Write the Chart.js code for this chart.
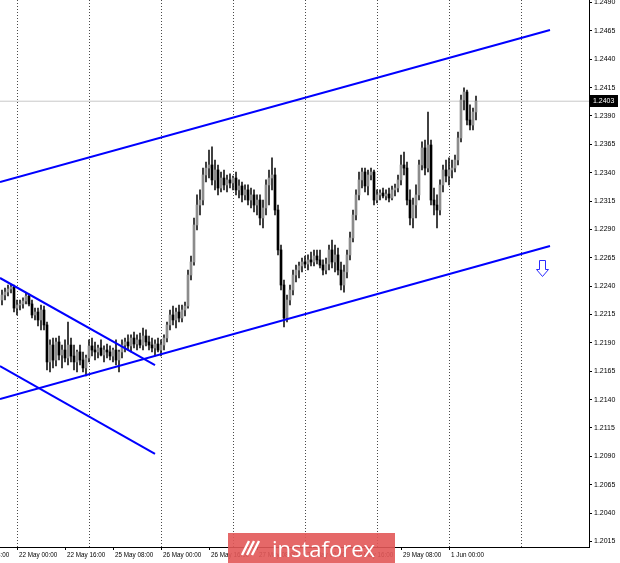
<!DOCTYPE html>
<html>
<head>
<meta charset="utf-8">
<script src="https://cdn.jsdelivr.net/npm/chart.js@4.4.0/dist/chart.umd.min.js"></script>
<style>
    html, body { margin: 0; padding: 0; background: #fff; }
    #wrap { position: relative; width: 620px; height: 563px; overflow: hidden; }
    #wm {
        position: absolute; left: 228px; top: 533px; width: 167px; height: 30px;
        background: rgba(226, 88, 88, 0.9); color: #fff;
        font: 22px "Open Sans", sans-serif; line-height: 30px;
        display: flex; align-items: center;
    }
    #wm svg { margin-left: 12px; margin-right: 10px; }
</style>
</head>
<body>
<div id="wrap">
    <canvas id="priceChart" width="620" height="563"></canvas>
    <div id="wm">
        <svg width="22" height="20" viewBox="0 0 22 20">
            <path d="M2 17 L9 3 M7 17 L14 3 M12 17 L19 3" stroke="#fff" stroke-width="2.4" fill="none"/>
        </svg>
        <span>instaforex</span>
    </div>
</div>
<script>
        // Bougies H1
        const opens = [1.22278,1.22322,1.22348,1.22375,1.22392,1.22207,1.22234,1.22243,1.22269,1.22313,
            1.22243,1.22146,1.22172,1.22102,1.22190,1.22058,1.21732,1.21881,1.21749,1.21908,
            1.21793,1.21837,1.21767,1.21881,1.21784,1.21732,1.21820,1.21749,1.21679,1.21767,
            1.21873,1.21837,1.21820,1.21855,1.21793,1.21837,1.21820,1.21784,1.21837,1.21749,
            1.21820,1.21881,1.21908,1.21873,1.21943,1.21890,1.21926,1.21881,1.21961,1.21908,
            1.21881,1.21855,1.21890,1.21837,1.21881,1.21943,1.22058,1.22146,1.22102,1.22172,
            1.22119,1.22190,1.22225,1.22498,1.22613,1.22939,1.23115,1.23159,1.23380,1.23441,
            1.23468,1.23336,1.23424,1.23265,1.23353,1.23292,1.23336,1.23309,1.23353,1.23248,
            1.23283,1.23204,1.23248,1.23159,1.23204,1.23115,1.23159,1.23001,1.23089,1.23292,
            1.23353,1.23380,1.23071,1.22719,1.22410,1.22119,1.22278,1.22366,1.22498,1.22542,
            1.22578,1.22613,1.22595,1.22631,1.22613,1.22666,1.22631,1.22586,1.22542,1.22595,
            1.22719,1.22613,1.22675,1.22542,1.22410,1.22525,1.22675,1.22825,1.23027,1.23204,
            1.23336,1.23406,1.23283,1.23380,1.23406,1.23159,1.23204,1.23221,1.23195,1.23212,
            1.23177,1.23248,1.23265,1.23336,1.23468,1.23441,1.23159,1.23001,1.23115,1.23204,
            1.23468,1.23618,1.23441,1.23644,1.23159,1.23115,1.23071,1.23292,1.23424,1.23371,
            1.23424,1.23441,1.23512,1.23706,1.24041,1.24111,1.23864,1.23820,1.23935];
        const highs = [1.22366,1.22384,1.22410,1.22419,1.22410,1.22278,1.22278,1.22296,1.22340,1.22331,
            1.22278,1.22207,1.22207,1.22234,1.22225,1.22084,1.21926,1.21943,1.21943,1.21961,
            1.21881,1.21926,1.22084,1.21943,1.21881,1.21837,1.21881,1.21820,1.21793,1.21926,
            1.21943,1.21908,1.21881,1.21926,1.21873,1.21890,1.21873,1.21855,1.21926,1.21837,
            1.21926,1.21943,1.21970,1.21970,1.21996,1.21970,1.21987,1.22031,1.22014,1.21961,
            1.21943,1.21926,1.21943,1.21926,1.21970,1.22084,1.22190,1.22225,1.22207,1.22234,
            1.22234,1.22260,1.22542,1.22666,1.23001,1.23204,1.23248,1.23441,1.23494,1.23600,
            1.23627,1.23512,1.23468,1.23406,1.23424,1.23380,1.23389,1.23371,1.23406,1.23336,
            1.23318,1.23292,1.23292,1.23265,1.23248,1.23204,1.23204,1.23159,1.23336,1.23424,
            1.23530,1.23441,1.23115,1.22763,1.22454,1.22322,1.22410,1.22542,1.22586,1.22613,
            1.22648,1.22666,1.22675,1.22701,1.22719,1.22719,1.22719,1.22631,1.22648,1.22763,
            1.22807,1.22763,1.22736,1.22613,1.22586,1.22719,1.22877,1.23071,1.23248,1.23406,
            1.23441,1.23441,1.23424,1.23441,1.23424,1.23248,1.23248,1.23265,1.23248,1.23265,
            1.23283,1.23300,1.23380,1.23556,1.23582,1.23494,1.23248,1.23177,1.23292,1.23512,
            1.23671,1.23688,1.23935,1.23688,1.23265,1.23204,1.23336,1.23468,1.23512,1.23530,
            1.23512,1.23556,1.23759,1.24085,1.24147,1.24129,1.23997,1.23970,1.24076];
        const lows = [1.22234,1.22278,1.22313,1.22340,1.22172,1.22146,1.22190,1.22207,1.22243,1.22225,
            1.22119,1.22102,1.22049,1.22014,1.22014,1.21661,1.21643,1.21679,1.21696,1.21749,
            1.21679,1.21732,1.21705,1.21732,1.21661,1.21643,1.21705,1.21643,1.21608,1.21732,
            1.21784,1.21749,1.21767,1.21784,1.21732,1.21767,1.21749,1.21732,1.21705,1.21643,
            1.21767,1.21820,1.21837,1.21820,1.21855,1.21837,1.21855,1.21837,1.21873,1.21837,
            1.21820,1.21784,1.21820,1.21784,1.21837,1.21908,1.22014,1.22058,1.22031,1.22084,
            1.22084,1.22137,1.22207,1.22454,1.22586,1.22895,1.23027,1.23115,1.23318,1.23353,
            1.23292,1.23248,1.23204,1.23230,1.23248,1.23230,1.23265,1.23248,1.23204,1.23177,
            1.23142,1.23159,1.23115,1.23089,1.23054,1.23027,1.22939,1.22913,1.23027,1.23115,
            1.23248,1.23027,1.22675,1.22366,1.22040,1.22084,1.22234,1.22322,1.22437,1.22472,
            1.22525,1.22560,1.22542,1.22578,1.22578,1.22595,1.22560,1.22498,1.22507,1.22542,
            1.22560,1.22525,1.22498,1.22366,1.22348,1.22472,1.22631,1.22789,1.22983,1.23159,
            1.23265,1.23230,1.23204,1.23336,1.23115,1.23133,1.23159,1.23177,1.23159,1.23142,
            1.23159,1.23195,1.23230,1.23292,1.23380,1.23115,1.22939,1.22913,1.23001,1.23159,
            1.23424,1.23380,1.23406,1.23115,1.23027,1.22913,1.23027,1.23230,1.23318,1.23292,
            1.23353,1.23406,1.23468,1.23671,1.23953,1.23820,1.23776,1.23776,1.23864];
        const closes = [1.22322,1.22348,1.22375,1.22392,1.22207,1.22234,1.22243,1.22269,1.22313,1.22243,
            1.22146,1.22172,1.22102,1.22190,1.22058,1.21732,1.21881,1.21749,1.21908,1.21793,
            1.21837,1.21767,1.21881,1.21784,1.21732,1.21820,1.21749,1.21679,1.21767,1.21873,
            1.21837,1.21820,1.21855,1.21793,1.21837,1.21820,1.21784,1.21837,1.21749,1.21820,
            1.21881,1.21908,1.21873,1.21943,1.21890,1.21926,1.21881,1.21961,1.21908,1.21881,
            1.21855,1.21890,1.21837,1.21881,1.21943,1.22058,1.22146,1.22102,1.22172,1.22119,
            1.22190,1.22225,1.22498,1.22613,1.22939,1.23115,1.23159,1.23380,1.23441,1.23468,
            1.23336,1.23424,1.23265,1.23353,1.23292,1.23336,1.23309,1.23353,1.23248,1.23283,
            1.23204,1.23248,1.23159,1.23204,1.23115,1.23159,1.23001,1.23089,1.23292,1.23353,
            1.23380,1.23071,1.22719,1.22410,1.22119,1.22278,1.22366,1.22498,1.22542,1.22578,
            1.22613,1.22595,1.22631,1.22613,1.22666,1.22631,1.22586,1.22542,1.22595,1.22719,
            1.22613,1.22675,1.22542,1.22410,1.22525,1.22675,1.22825,1.23027,1.23204,1.23336,
            1.23406,1.23283,1.23380,1.23406,1.23159,1.23204,1.23221,1.23195,1.23212,1.23177,
            1.23248,1.23265,1.23336,1.23468,1.23441,1.23159,1.23001,1.23115,1.23204,1.23468,
            1.23618,1.23441,1.23644,1.23159,1.23115,1.23071,1.23292,1.23424,1.23371,1.23424,
            1.23441,1.23512,1.23706,1.24041,1.24111,1.23864,1.23820,1.23935,1.24032];

        // Lignes de tendance : [index de barre, prix]
        const channelUpper = [[-0.667, 1.23318], [182.67, 1.24658]];
        const channelLower = [[-0.667, 1.21406], [182.67, 1.22754]];
        const descUpper = [[-0.667, 1.22472], [51, 1.21705]];
        const descLower = [[-0.667, 1.21696], [51, 1.20921]];

        const lastPrice = 1.2403;
        const arrowPos = [180, 1.2256];

        // Axes
        const yTicks = [1.2015,1.2040,1.2065,1.2090,1.2115,1.2140,1.2165,1.2190,1.2215,1.2240,
            1.2265,1.2290,1.2315,1.2340,1.2365,1.2390,1.2415,1.2440,1.2465,1.2490];
        const timeTickIdx = [-11, 5, 21, 37, 53, 69, 85, 101, 117, 133, 149];
        const timeLabels = ["21 May 08:00", "22 May 00:00", "22 May 16:00", "25 May 08:00", "26 May 00:00",
            "26 May 16:00", "27 May 08:00", "28 May 00:00", "28 May 16:00", "29 May 08:00", "1 Jun 00:00"];
        const dayIdx = [5, 29, 53, 77, 101, 125, 149, 173];

        const allTicks = [...new Set(timeTickIdx.concat(dayIdx))].sort((a, b) => a - b);
        const toPts = arr => arr.map(p => ({ x: p[0], y: p[1] }));
        const tickVal = c => (c && c.tick) ? c.tick.value : null;
        const noPad = s => { s.paddingLeft = 0; s.paddingRight = 0; s.paddingTop = 0; s.paddingBottom = 0; };

        const wickData = opens.map((o, i) => ({ x: i, y: [lows[i], highs[i]] }));
        const bodyData = opens.map((o, i) => ({ x: i, y: [o, closes[i]] }));
        const bodyColors = opens.map((o, i) => closes[i] >= o ? '#8c8c8c' : '#000000');

        // Étiquette du dernier prix + flèche
        const overlay = {
            id: 'overlay',
            afterDraw(chart) {
                const c = chart.ctx, xs = chart.scales.x, ys = chart.scales.y;
                const py = Math.round(ys.getPixelForValue(lastPrice));
                c.save();
                c.fillStyle = '#000';
                c.fillRect(590, py - 6, 28, 12);
                c.fillStyle = '#fff';
                c.font = '7px "Liberation Sans"';
                c.textBaseline = 'middle';
                c.fillText(lastPrice.toFixed(4), 593, py);
                const ax = Math.round(xs.getPixelForValue(arrowPos[0])) + 0.5;
                const ay = Math.round(ys.getPixelForValue(arrowPos[1])) + 0.5;
                c.beginPath();
                c.moveTo(ax - 3, ay - 8);
                c.lineTo(ax + 3, ay - 8);
                c.lineTo(ax + 3, ay + 1);
                c.lineTo(ax + 6, ay + 1);
                c.lineTo(ax, ay + 8);
                c.lineTo(ax - 6, ay + 1);
                c.lineTo(ax - 3, ay + 1);
                c.closePath();
                c.fillStyle = '#fff';
                c.fill();
                c.strokeStyle = '#2a2aff';
                c.lineWidth = 1;
                c.stroke();
                c.restore();
            }
        };

        const lineDs = (pts) => ({
            type: 'line', data: toPts(pts), borderColor: '#0000ff', borderWidth: 2,
            pointRadius: 0, fill: false, order: 0
        });

        const ctx = document.getElementById('priceChart').getContext('2d');
        const priceChart = new Chart(ctx, {
            type: 'bar',
            data: {
                datasets: [
                    lineDs(channelUpper),
                    lineDs(channelLower),
                    lineDs(descUpper),
                    lineDs(descLower),
                    { data: bodyData, backgroundColor: bodyColors, barThickness: 2, minBarLength: 1, grouped: false, order: 1 },
                    { data: wickData, backgroundColor: '#1a1a1a', barThickness: 1, grouped: false, order: 2 },
                    { type: 'line', data: [{ x: -1, y: lastPrice }, { x: 200, y: lastPrice }], borderColor: '#c8c8c8',
                      borderWidth: 1, pointRadius: 0, order: 3 }
                ]
            },
            options: {
                responsive: false,
                animation: false,
                layout: { padding: 0 },
                plugins: { legend: { display: false }, tooltip: { enabled: false } },
                scales: {
                    x: {
                        type: 'linear', min: -2 / 3, max: 587 / 3, offset: false,
                        afterBuildTicks: s => { s.ticks = allTicks.map(v => ({ value: v })); },
                        afterFit: s => { s.height = 16; noPad(s); },
                        ticks: {
                            autoSkip: false, maxRotation: 0, minRotation: 0, align: 'start', labelOffset: 2, padding: 1,
                            color: '#000', font: { family: 'Liberation Sans', size: 6.3 },
                            callback: v => { const k = timeTickIdx.indexOf(v); return k >= 0 ? timeLabels[k] : ''; }
                        },
                        grid: {
                            offset: false,
                            color: c => dayIdx.includes(tickVal(c)) ? '#4a4a4a' : 'rgba(0,0,0,0)',
                            tickColor: c => timeTickIdx.includes(tickVal(c)) ? '#000' : 'rgba(0,0,0,0)',
                            tickLength: 3, tickBorderDash: [], lineWidth: 1
                        },
                        border: { color: '#000', dash: [1, 2] }
                    },
                    y: {
                        position: 'right', min: 1.20101, max: 1.24922,
                        afterBuildTicks: s => { s.ticks = yTicks.map(v => ({ value: v })); },
                        afterFit: s => { s.width = 31; noPad(s); },
                        ticks: {
                            padding: 2, color: '#000', font: { family: 'Liberation Sans', size: 7 },
                            callback: v => v.toFixed(4)
                        },
                        grid: { drawOnChartArea: false, tickLength: 3, tickColor: '#000' },
                        border: { color: '#000' }
                    }
                }
            },
            plugins: [overlay]
        });
</script>
</body>
</html>
